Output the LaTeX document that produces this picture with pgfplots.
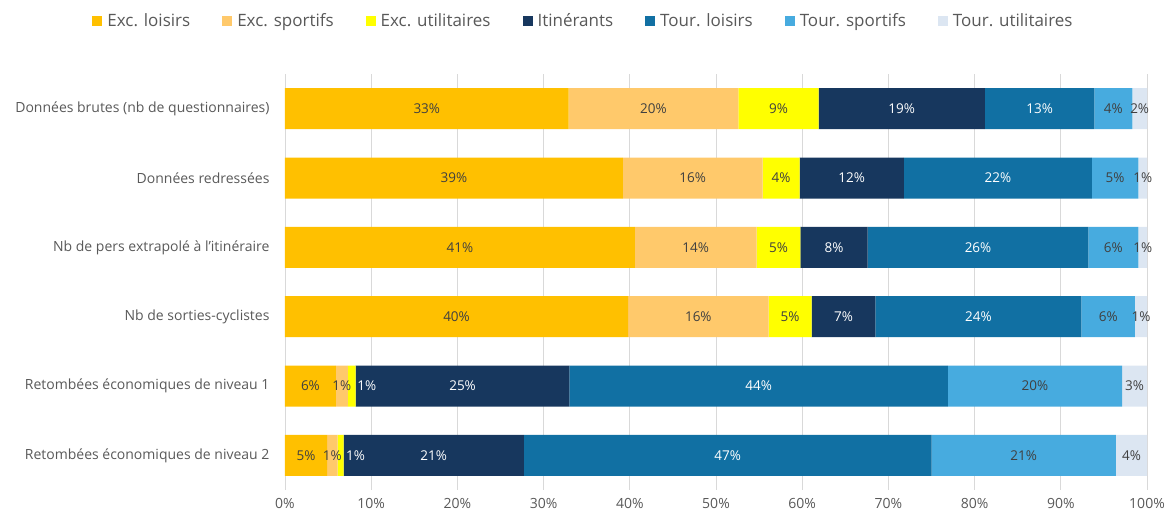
\documentclass[border=0pt]{standalone}
\usepackage{pgfplots}
\pgfplotsset{compat=1.18}
\usepackage{fontspec}
\setmainfont{Open Sans}
\definecolor{c1}{HTML}{FFC000}
\definecolor{c2}{HTML}{FFC96B}
\definecolor{c3}{HTML}{FFFF00}
\definecolor{c4}{HTML}{17375E}
\definecolor{c5}{HTML}{1170A3}
\definecolor{c6}{HTML}{47ABDF}
\definecolor{c7}{HTML}{DCE6F2}
\definecolor{txt}{HTML}{595959}
\definecolor{lbl}{HTML}{404040}
\definecolor{grid}{HTML}{D9D9D9}
\begin{document}
\begin{tikzpicture}
\useasboundingbox (-285pt,-29pt) rectangle (887pt,490pt);
\begin{axis}[
  scale only axis, width=862pt, height=416pt,
  xbar stacked, bar width=41pt,
  xmin=0, xmax=100, ymin=-0.5, ymax=5.5, y dir=reverse,
  ytick={0,...,5},
  yticklabels={Données brutes (nb de questionnaires),Données redressées,Nb de pers extrapolé à l'itinéraire,Nb de sorties-cyclistes,Retombées économiques de niveau 1,Retombées économiques de niveau 2},
  xtick={0,10,...,100},
  xticklabel={\pgfmathprintnumber[assume math mode=true]{\tick}\%},
  tick label style={font=\fontsize{14}{16}\selectfont, text=txt},
  xticklabel style={yshift=-5pt},
  yticklabel style={xshift=-12pt},
  major tick length=0pt,
  xmajorgrids, grid style={draw=grid, line width=0.8pt},
  axis lines*=left,
  x axis line style={draw=none},
  y axis line style={draw=grid, line width=0.8pt},
  legend style={at={(0.348,1)}, anchor=south, yshift=42pt, legend columns=7, draw=none,
    font=\fontsize{17}{19}\selectfont, text=txt,
    /tikz/every even column/.append style={column sep=27pt},
    nodes={inner xsep=5pt},
    legend cell align=left},
  legend image code/.code={\fill[#1, draw=none] (0pt,-5pt) rectangle (10pt,5pt);},
  visualization depends on=rawx \as \rawx,
  nodes near coords={\pgfmathprintnumber[fixed,precision=0,assume math mode=true]{\rawx}\%},
  every node near coord/.append style={anchor=center, font=\fontsize{13.5}{15}\selectfont},
]
\addplot[fill=c1, draw=none, every node near coord/.append style={text=lbl}] coordinates {(32.9,0) (39.2,1) (40.6,2) (39.8,3) (5.9,4) (4.9,5)};
\addplot[fill=c2, draw=none, every node near coord/.append style={text=lbl}] coordinates {(19.7,0) (16.2,1) (14.1,2) (16.3,3) (1.4,4) (1.2,5)};
\addplot[fill=c3, draw=none,
  nodes near coords={\pgfmathtruncatemacro\issmall{\rawx<1}\ifnum\issmall=1 \color{white}\fi\pgfmathprintnumber[fixed,precision=0,assume math mode=true]{\rawx}\%},
  every node near coord/.append style={text=lbl, xshift={(\rawx<1)*15}}] coordinates {(9.3,0) (4.3,1) (5.1,2) (5.0,3) (0.9,4) (0.7,5)};
\addplot[fill=c4, draw=none, every node near coord/.append style={text=white}] coordinates {(19.3,0) (12.1,1) (7.8,2) (7.4,3) (24.8,4) (20.9,5)};
\addplot[fill=c5, draw=none, every node near coord/.append style={text=white}] coordinates {(12.7,0) (21.8,1) (25.6,2) (23.9,3) (43.9,4) (47.3,5)};
\addplot[fill=c6, draw=none, every node near coord/.append style={text=lbl}] coordinates {(4.4,0) (5.4,1) (5.8,2) (6.2,3) (20.2,4) (21.4,5)};
\addplot[fill=c7, draw=none, every node near coord/.append style={text=lbl}] coordinates {(1.7,0) (1.0,1) (1.0,2) (1.4,3) (2.9,4) (3.6,5)};
\legend{Exc. loisirs,Exc. sportifs,Exc. utilitaires,Itinérants,Tour. loisirs,Tour. sportifs,Tour. utilitaires}
\end{axis}
\end{tikzpicture}
\end{document}
